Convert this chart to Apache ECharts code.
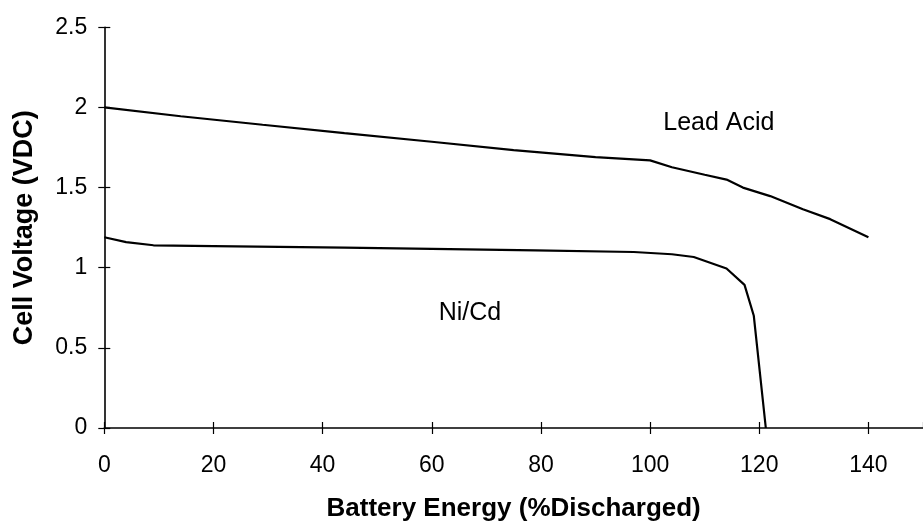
<!DOCTYPE html>
<html>
<head>
<meta charset="utf-8">
<script src="https://cdn.jsdelivr.net/npm/echarts@6/dist/echarts.min.js"></script>
<style>
html,body{margin:0;padding:0;background:#fff;}
#chart{width:923px;height:527px;}
</style>
</head>
<body>
<div id="chart"></div>
<script>
// Data
const leadAcidX = [0, 14, 29, 44, 60, 75, 90, 100, 104, 110, 114, 117, 122, 128, 133, 140];
const leadAcidY = [2.0, 1.945, 1.892, 1.84, 1.786, 1.734, 1.69, 1.67, 1.627, 1.58, 1.55, 1.50, 1.447, 1.365, 1.303, 1.19];
const niCdX = [0, 4, 9, 20, 32, 44, 60, 79, 97, 104, 108, 114, 117.3, 119, 121.2];
const niCdY = [1.19, 1.16, 1.14, 1.135, 1.13, 1.125, 1.118, 1.108, 1.098, 1.084, 1.067, 0.995, 0.893, 0.70, 0];
const seriesNames = ['Lead Acid', 'Ni/Cd'];
const labelPos = [[112.6, 1.905], [67.0, 0.718]];
const xTitle = 'Battery Energy (%Discharged)';
const yTitle = 'Cell Voltage (VDC)';

const FONT = '"Liberation Sans", Arial, Helvetica, sans-serif';
const pair = (xs, ys) => xs.map((x, i) => [x, ys[i]]);

const chart = echarts.init(document.getElementById('chart'));
const xBase = {type: 'value', min: 0, max: 150, interval: 20, gridIndex: 0, position: 'bottom', splitLine: {show: false}};
const yBase = {type: 'value', min: 0, max: 2.5, interval: 0.5, gridIndex: 0, position: 'left', splitLine: {show: false}};

function mkSeries(name, data, pos) {
  return {
    name: name, type: 'line', data: data, showSymbol: false, symbol: 'none',
    xAxisIndex: 0, yAxisIndex: 0,
    lineStyle: {color: '#000', width: 2.2}, animation: false, silent: true,
    markPoint: {
      symbol: 'circle', symbolSize: 0, silent: true, animation: false,
      data: [{coord: pos, value: name}],
      label: {show: true, position: 'inside', formatter: name, color: '#000', fontFamily: FONT, fontSize: 25}
    }
  };
}

chart.setOption({
  animation: false,
  backgroundColor: '#fff',
  grid: {left: 104.3, top: 27.3, width: 829.7, height: 406, containLabel: false},
  xAxis: [
    Object.assign({}, xBase, {
      name: xTitle, nameLocation: 'middle', nameGap: 68,
      nameTextStyle: {fontFamily: FONT, fontSize: 26, fontWeight: 'bold', color: '#000'},
      axisLine: {show: true, lineStyle: {color: '#000', width: 1.6}},
      axisTick: {show: true, inside: false, length: 6, lineStyle: {color: '#000', width: 1.2}},
      axisLabel: {show: true, margin: 26, color: '#000', fontFamily: FONT, fontSize: 23, showMaxLabel: false}
    }),
    Object.assign({}, xBase, {
      axisLine: {show: false},
      axisTick: {show: true, inside: true, length: 6, lineStyle: {color: '#000', width: 1.2}},
      axisLabel: {show: false}
    })
  ],
  yAxis: [
    Object.assign({}, yBase, {
      name: yTitle, nameLocation: 'middle', nameGap: 66,
      nameTextStyle: {fontFamily: FONT, fontSize: 27, fontWeight: 'bold', color: '#000'},
      axisLine: {show: true, lineStyle: {color: '#000', width: 1.6}},
      axisTick: {show: true, inside: false, length: 6, lineStyle: {color: '#000', width: 1.2}},
      axisLabel: {show: true, margin: 17, color: '#000', fontFamily: FONT, fontSize: 23}
    }),
    Object.assign({}, yBase, {
      axisLine: {show: false},
      axisTick: {show: true, inside: true, length: 6, lineStyle: {color: '#000', width: 1.2}},
      axisLabel: {show: false}
    })
  ],
  series: [
    mkSeries(seriesNames[0], pair(leadAcidX, leadAcidY), labelPos[0]),
    mkSeries(seriesNames[1], pair(niCdX, niCdY), labelPos[1])
  ]
});
</script>
</body>
</html>
